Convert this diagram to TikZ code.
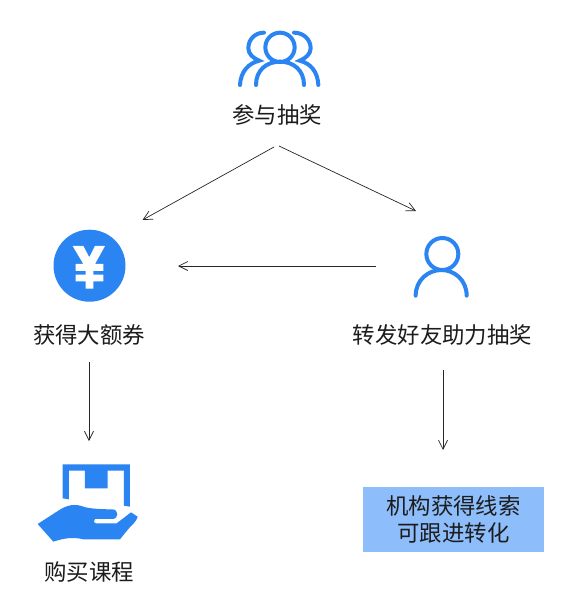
\documentclass[tikz,border=0pt]{standalone}
\usepackage{fontspec}
\newfontfamily\cjk{Noto Sans CJK SC}
\usetikzlibrary{arrows.meta}
\definecolor{iconblue}{HTML}{2A84F2}
\definecolor{boxblue}{HTML}{8DBEFB}
\definecolor{inktext}{HTML}{1C1C1C}
\tikzset{
  lbl/.style={font=\cjk\fontsize{22.4}{27}\selectfont,text=inktext,inner sep=0pt,align=center},
  spot/.style={inner sep=0pt,minimum size=10pt},
  flow/.style={draw=black!85,line width=0.7pt,-{Straight Barb[length=9pt,width=9pt,line width=0.7pt]}},
  outline/.style={draw=iconblue,line width=4pt,line cap=round,fill=none},
  zoomed/.style={x=0.3333pt,y=-0.3333pt}
}
\begin{document}
\begin{tikzpicture}[x=1pt,y=-1pt]
\useasboundingbox (0,0) rectangle (561,594);
\fill[white] (0,0) rectangle (561,594);

% users icon
\begin{scope}[shift={(220pt,-20pt)},zoomed]
  \draw[outline] (180,82) circle[radius=44];
  \draw[outline] (108,195) .. controls (108,150) and (140,125) .. (180,125) .. controls (220,125) and (252,150) .. (252,195);
  \draw[outline] (132,38) .. controls (105,38) and (85,58) .. (85,85) .. controls (85,102) and (100,115) .. (118,122) .. controls (85,130) and (62,155) .. (60,195);
  \draw[outline] (222,38) .. controls (250,38) and (272,58) .. (272,85) .. controls (272,102) and (257,115) .. (239,122) .. controls (272,130) and (293,155) .. (295,195);
\end{scope}

% yen icon
\fill[iconblue] (89.5,265.7) circle[radius=36];
\begin{scope}[shift={(30pt,-220pt)},zoomed]
  \fill[white] (128,78) -- (160,78) -- (178,112) -- (195,78) -- (225,78) -- (195,132) -- (220,132) -- (220,153) -- (190,153) -- (190,164) -- (220,164) -- (220,184) -- (190,184) -- (190,206) -- (167,206) -- (167,184) -- (137,184) -- (137,164) -- (167,164) -- (167,153) -- (137,153) -- (137,132) -- (160,132) -- cycle;
\end{scope}

% person icon
\begin{scope}[shift={(400pt,-225pt)},zoomed]
  \draw[outline] (127,87) circle[radius=48];
  \draw[outline] (47,212) .. controls (47,165) and (85,135) .. (124,135) .. controls (163,135) and (200,165) .. (200,212);
\end{scope}

% hand and box icon
\begin{scope}[shift={(25pt,-455pt)},zoomed]
  \fill[iconblue] (113,28) -- (315,28) -- (315,155) -- (297,152) -- (297,47) -- (248,47) -- (248,100) -- (180,100) -- (180,47) -- (132,47) -- (132,133) -- (113,130) -- cycle;
  \fill[iconblue] (38,207) -- (100,167) .. controls (125,150) and (150,145) .. (175,155) .. controls (195,162) and (240,163) .. (262,163) .. controls (282,163) and (282,192) .. (262,192) -- (210,192) .. controls (205,197) and (205,205) .. (212,205) -- (275,205) -- (318,172) -- (338,185) .. controls (335,200) and (320,210) .. (310,222) -- (285,253) -- (175,253) .. controls (145,245) and (115,250) .. (85,260) -- cycle;
\end{scope}

% info box
\node[fill=boxblue,minimum width=181pt,minimum height=65pt,inner sep=0pt,lbl,text=inktext] (clue) at (453.5,519.5) {机构获得线索\\[-0.5pt]可跟进转化};

% labels and anchors
\node[lbl] (join) at (277,115) {\cjk 参与抽奖};
\node[lbl] (coupon) at (89,335) {\cjk 获得大额券};
\node[lbl] (share) at (442.5,335) {\cjk 转发好友助力抽奖};
\node[lbl] (buy) at (89,572) {\cjk 购买课程};
\node[spot] (yen) at (89.5,266) {};
\node[spot] (person) at (441,266) {};
\node[spot] (hand) at (89,505) {};

% connectors
\draw[flow] ([xshift=-3pt,yshift=-32pt]join.center) -- ([xshift=53pt,yshift=46pt]yen.center);
\draw[flow] ([xshift=2pt,yshift=-31pt]join.center) -- ([xshift=-25pt,yshift=55pt]person.center);
\draw[flow] ([xshift=-65pt]person.center) -- ([xshift=88.5pt]yen.center);
\draw[flow] ([yshift=-27pt]coupon.center) -- ([yshift=64pt]hand.center);
\draw[flow] ([xshift=0.5pt,yshift=-35pt]share.center) -- ([xshift=-10.5pt,yshift=69.5pt]clue.center);
\end{tikzpicture}
\end{document}
